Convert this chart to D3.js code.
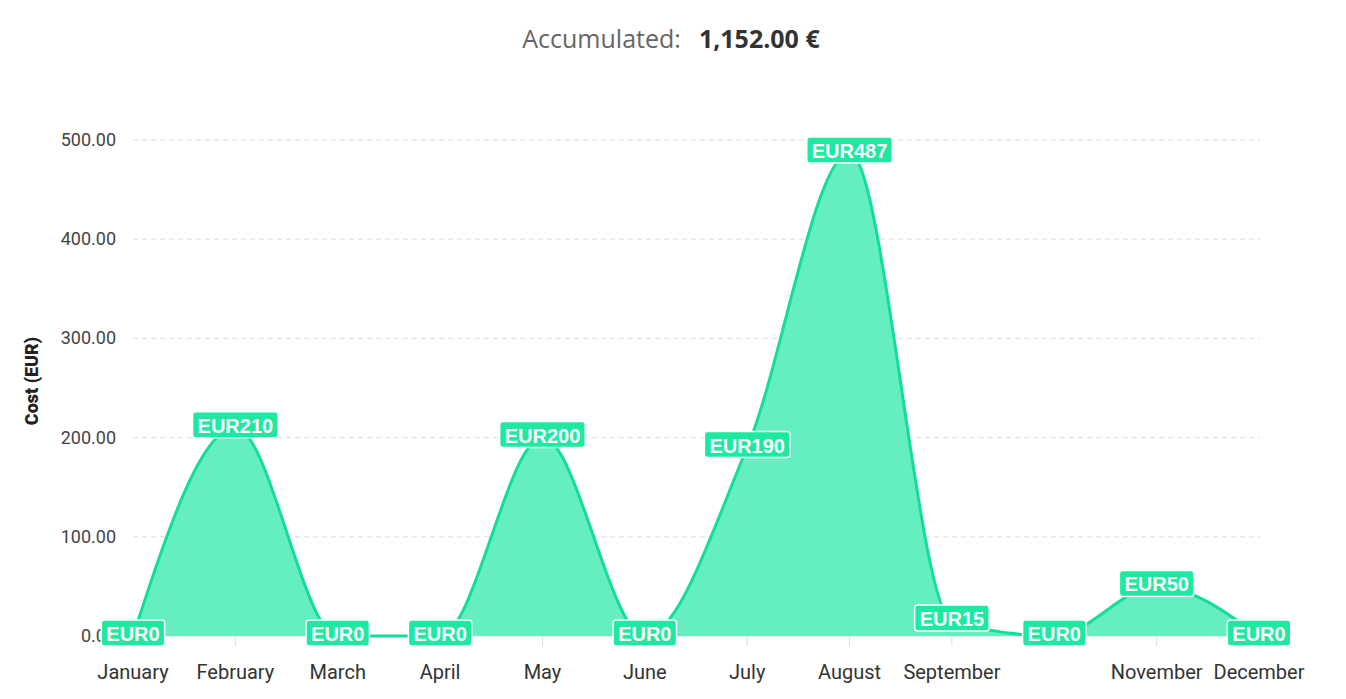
<!DOCTYPE html>
<html><head><meta charset="utf-8">
<script src="https://cdn.jsdelivr.net/npm/d3@7"></script>
<style>body{margin:0;background:#fff;font-family:Roboto,"Open Sans",sans-serif}</style>
</head><body><svg id="c" width="1346" height="699"></svg>
<script>
const months = ['January','February','March','April','May','June','July','August','September','October','November','December'];
const monthLabels = ['January','February','March','April','May','June','July','August','September','','November','December'];
const costs = [0,210,0,0,200,0,190,487,15,0,50,0];
const yTicks = [0,100,200,300,400,500];
const total = d3.sum(costs);

const svg = d3.select('#c');
const x = d3.scalePoint().domain(months).range([133,1259]);
const y = d3.scaleLinear().domain([0,500]).range([636,140]);

const title = svg.append('text').attr('x',671).attr('y',48).attr('text-anchor','middle')
  .style('font-family','"Open Sans",sans-serif').style('font-size','25px');
title.append('tspan').attr('fill','#666').text('Accumulated:');
title.append('tspan').attr('dx',18).attr('fill','#333').attr('font-weight',700).text(d3.format(',.2f')(total)+' €');

svg.append('g').selectAll('line').data(yTicks.slice(1)).join('line')
  .attr('x1',133).attr('x2',1260).attr('y1',d=>y(d)).attr('y2',d=>y(d))
  .attr('stroke','#ddd').attr('stroke-dasharray','5,4');
svg.append('g').selectAll('text').data(yTicks).join('text')
  .attr('x',116).attr('y',d=>y(d)+6).attr('text-anchor','end')
  .attr('fill','#444').style('font-size','18px').text(d=>d3.format('.2f')(d));
svg.append('text').attr('transform','translate(38,381) rotate(-90)').attr('text-anchor','middle')
  .attr('fill','#222').attr('font-weight',900).style('font-size','18px').text('Cost (EUR)');

svg.append('line').attr('x1',133).attr('x2',1260).attr('y1',636).attr('y2',636).attr('stroke','#ddd');
svg.append('g').selectAll('line').data(months).join('line')
  .attr('x1',d=>x(d)).attr('x2',d=>x(d)).attr('y1',636).attr('y2',646).attr('stroke','#ddd');
svg.append('g').selectAll('text').data(months).join('text')
  .attr('x',d=>x(d)).attr('y',679).attr('text-anchor','middle').attr('fill','#333')
  .style('font-size','20px').text((d,i)=>monthLabels[i]);

const area = d3.area().x((d,i)=>x(months[i])).y0(636).y1(d=>y(d)).curve(d3.curveMonotoneX);
const line = d3.line().x((d,i)=>x(months[i])).y(d=>y(d)).curve(d3.curveMonotoneX);
svg.append('path').attr('d',area(costs)).attr('fill','#66eec3');
svg.append('path').attr('d',line(costs)).attr('fill','none').attr('stroke','#12de95').attr('stroke-width',3);

const lab = svg.append('g').selectAll('g').data(costs).join('g')
  .attr('transform',(d,i)=>`translate(${x(months[i])},${y(d)-3})`);
lab.append('text').attr('text-anchor','middle').attr('y',8).attr('fill','#fff')
  .attr('font-weight',700).style('font-family','Arial,"Liberation Sans",sans-serif').style('font-size','20px')
  .text(d=>'EUR'+d);
lab.each(function(){
  const g=d3.select(this), b=g.select('text').node().getBBox();
  g.insert('rect','text').attr('x',b.x-5).attr('y',-13).attr('width',b.width+10).attr('height',26)
   .attr('rx',3).attr('fill','#1de9a0').attr('stroke','#fff').attr('stroke-width',1.5);
});
</script></body></html>
